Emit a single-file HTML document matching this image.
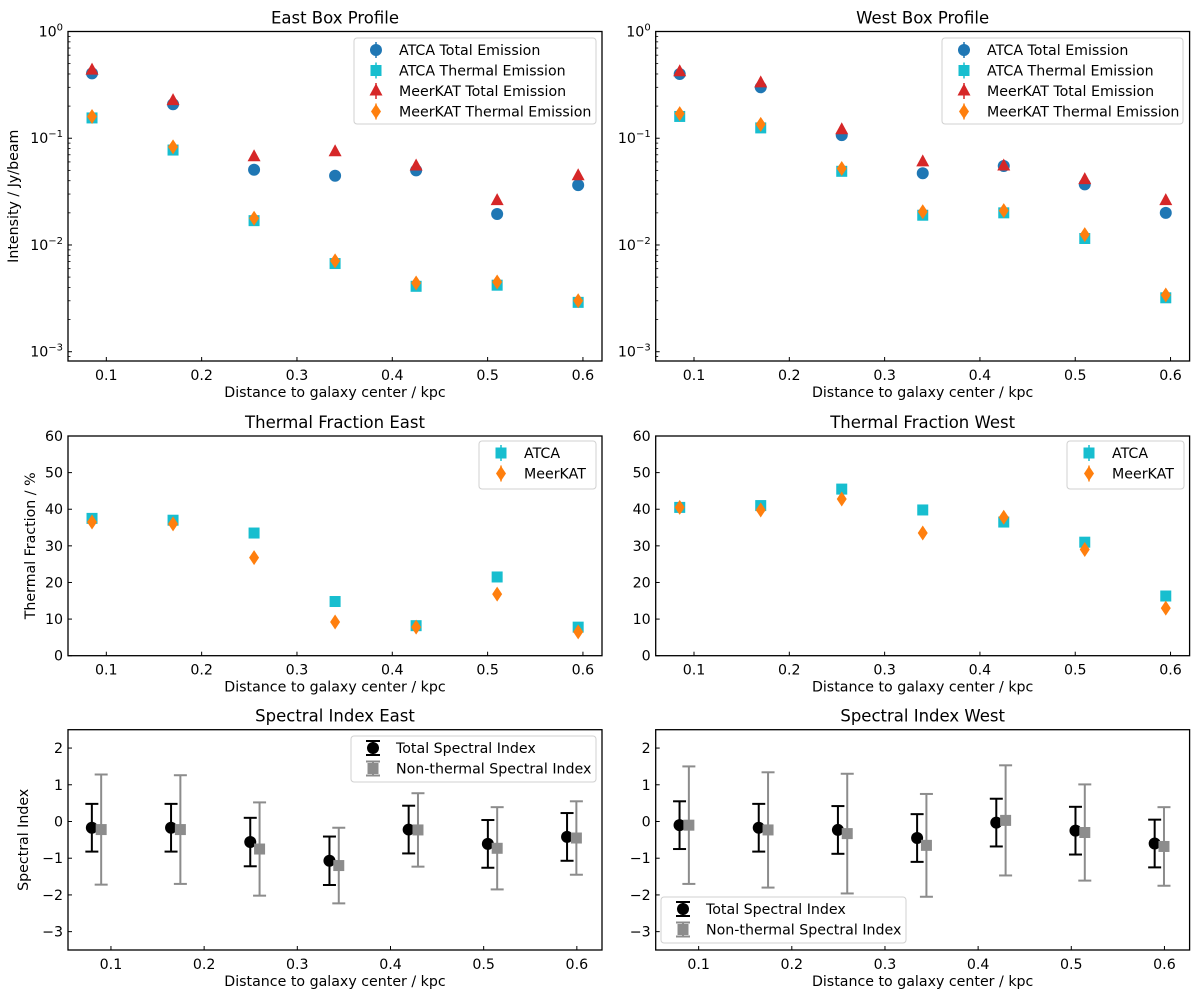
<!DOCTYPE html>
<html><head><meta charset="utf-8"><style>
body{margin:0;background:#fff;}
svg{display:block;font-family:"DejaVu Sans","Liberation Sans",sans-serif;}
</style></head><body>
<svg id="fig" width="1200" height="998" viewBox="0 0 1200 998" xmlns="http://www.w3.org/2000/svg"></svg>
<script>
// ---- data ----
const distances = [0.085, 0.17, 0.255, 0.34, 0.425, 0.51, 0.595];
const eastAtcaTotal = [0.405, 0.208, 0.0507, 0.0445, 0.050, 0.0195, 0.0364];
const eastAtcaThermal = [0.155, 0.0775, 0.0169, 0.0067, 0.0041, 0.0042, 0.0029];
const eastMeerTotal = [0.435, 0.225, 0.067, 0.0748, 0.055, 0.026, 0.0445];
const eastMeerThermal = [0.16, 0.083, 0.0178, 0.0071, 0.0044, 0.0045, 0.0030];
const westAtcaTotal = [0.40, 0.30, 0.107, 0.047, 0.055, 0.037, 0.020];
const westAtcaThermal = [0.16, 0.125, 0.049, 0.019, 0.020, 0.0115, 0.0032];
const westMeerTotal = [0.42, 0.33, 0.12, 0.060, 0.055, 0.041, 0.026];
const westMeerThermal = [0.17, 0.135, 0.052, 0.0205, 0.021, 0.0125, 0.0034];
const eastFracAtca = [37.5, 37, 33.5, 14.8, 8.2, 21.5, 7.8];
const eastFracMeer = [36.5, 36, 26.8, 9.2, 7.8, 16.8, 6.5];
const westFracAtca = [40.5, 41, 45.5, 39.8, 36.5, 31, 16.3];
const westFracMeer = [40.5, 39.8, 42.8, 33.5, 37.8, 29, 13];
const eastSiTotal = [-0.17, -0.17, -0.56, -1.07, -0.22, -0.61, -0.42];
const eastSiTotalErr = [0.65, 0.65, 0.66, 0.66, 0.65, 0.65, 0.65];
const eastSiNth = [-0.22, -0.22, -0.75, -1.2, -0.23, -0.73, -0.45];
const eastSiNthErr = [1.5, 1.48, 1.27, 1.03, 1.0, 1.12, 1.0];
const westSiTotal = [-0.1, -0.17, -0.23, -0.45, -0.03, -0.25, -0.6];
const westSiTotalErr = [0.65, 0.65, 0.65, 0.65, 0.65, 0.65, 0.65];
const westSiNth = [-0.1, -0.23, -0.33, -0.65, 0.03, -0.3, -0.68];
const westSiNthErr = [1.6, 1.57, 1.63, 1.4, 1.5, 1.31, 1.07];
const xTicks = [0.1, 0.2, 0.3, 0.4, 0.5, 0.6];
const logTicks = [0, -1, -2, -3];
const fracTicks = [0, 10, 20, 30, 40, 50, 60];
const siTicks = [-3, -2, -1, 0, 1, 2];

const NS = "http://www.w3.org/2000/svg";
const svg = document.getElementById('fig');
function mk(tag, attrs, parent, text) {
  const e = document.createElementNS(NS, tag);
  for (const k in attrs) e.setAttribute(k, attrs[k]);
  if (text !== undefined) e.textContent = text;
  (parent || svg).appendChild(e);
  return e;
}
const C = {blue:'#1f77b4', cyan:'#17becf', red:'#d62728', orange:'#ff7f0e'};
const FS = 14.2;

function marker(g, type, x, y, color) {
  let e;
  if (type === 'circle') e = mk('circle', {cx:x, cy:y, r:6, fill:color}, g);
  else if (type === 'square') e = mk('rect', {x:x-5.5, y:y-5.5, width:11, height:11, fill:color}, g);
  else if (type === 'tri') e = mk('path', {d:`M${x},${y-7.5} L${x+6.5},${y+4.5} L${x-6.5},${y+4.5}Z`, fill:color}, g);
  else if (type === 'diamond') e = mk('path', {d:`M${x},${y-7.5} L${x+5},${y} L${x},${y+7.5} L${x-5},${y}Z`, fill:color}, g);
  return e;
}

function panel(p) {
  const g = mk('g', {});
  
  
  const {L, R, T, B} = p;
  const sx = v => L + (v - p.xmin) / (p.xmax - p.xmin) * (R - L);
  const sy = v => {
    const t = p.log ? Math.log10(v) : v;
    return B - (t - p.ymin) / (p.ymax - p.ymin) * (B - T);
  };
  const t = mk('text', {x:(L+R)/2, y:T-8, 'text-anchor':'middle', 'font-size':16.5}, g, p.title);
  
  
  xTicks.forEach(v => {
    const x = sx(v);
    mk('line', {x1:x, y1:B, x2:x, y2:B-4, stroke:'#000', 'stroke-width':1}, g);
    const lb = mk('text', {x:x, y:B+19, 'text-anchor':'middle', 'font-size':FS}, g, v.toFixed(1));
    
    
  });
  const xl = mk('text', {x:(L+R)/2, y:B+36, 'text-anchor':'middle', 'font-size':FS}, g, 'Distance to galaxy center / kpc');
  
  
  if (p.log) {
    logTicks.forEach(e => {
      const y = B - (e - p.ymin) / (p.ymax - p.ymin) * (B - T);
      mk('line', {x1:L, y1:y, x2:L+4, y2:y, stroke:'#000'}, g);
      const lb = mk('text', {x:L-5, y:y+5, 'text-anchor':'end', 'font-size':FS}, g);
      
      
      mk('tspan', {}, lb, '10');
      mk('tspan', {dy:-6, 'font-size':10}, lb, e === 0 ? '0' : '\u2212' + (-e));
      if (e > -3) {
        for (let m = 2; m <= 9; m++) {
          const ym = sy(Math.pow(10, e - 1) * m);
          mk('line', {x1:L, y1:ym, x2:L+2.5, y2:ym, stroke:'#000', 'stroke-width':0.8}, g);
        }
      }
    });
    for (let m = 8; m <= 9; m++) {
      const ym = sy(Math.pow(10, -4) * m);
      if (ym < B) mk('line', {x1:L, y1:ym, x2:L+2.5, y2:ym, stroke:'#000', 'stroke-width':0.8}, g);
    }
  } else {
    p.yTicks.forEach(v => {
      const y = sy(v);
      mk('line', {x1:L, y1:y, x2:L+4, y2:y, stroke:'#000'}, g);
      const lb = mk('text', {x:L-5, y:y+5, 'text-anchor':'end', 'font-size':FS}, g, v < 0 ? '\u2212' + (-v) : String(v));
      
      
    });
  }
  if (p.ylabel) {
    const yl = mk('text', {x:0, y:0, transform:`translate(${L-p.ylOff},${(T+B)/2}) rotate(-90)`, 'text-anchor':'middle', 'font-size':FS}, g, p.ylabel);
    
    
  }
  p.series.forEach(s => {
    const sg = mk('g', {}, g);
    
    
    s.y.forEach((v, i) => {
      const x = sx(distances[i] + (s.dx || 0));
      if (s.err) {
        const y1 = sy(v + s.err[i]), y2 = sy(v - s.err[i]);
        mk('line', {x1:x, y1:y1, x2:x, y2:y2, stroke:s.color, 'stroke-width':2}, sg);
        mk('line', {x1:x-6.5, y1:y1, x2:x+6.5, y2:y1, stroke:s.color, 'stroke-width':2}, sg);
        mk('line', {x1:x-6.5, y1:y2, x2:x+6.5, y2:y2, stroke:s.color, 'stroke-width':2}, sg);
      }
      const m = marker(sg, s.type, x, sy(v), s.color);
      
      
    });
  });
  mk('rect', {x:L, y:T, width:R-L, height:B-T, fill:'none', stroke:'#000', 'stroke-width':1.3}, g);
  const lg = p.legend;
  const lgG = mk('g', {}, g);
  
  
  mk('rect', {x:lg.x, y:lg.y, width:lg.w, height:lg.h, rx:3, fill:'#fff', 'fill-opacity':0.8, stroke:'#d0d0d0'}, lgG);
  p.series.forEach((s, i) => {
    const ey = lg.y + 12 + i * 20.5;
    const eg = mk('g', {}, lgG);
    
    
    const mx = lg.x + 22;
    if (s.err) {
      mk('line', {x1:mx, y1:ey-7, x2:mx, y2:ey+7, stroke:s.color, 'stroke-width':2}, eg);
      mk('line', {x1:mx-7, y1:ey-7, x2:mx+7, y2:ey-7, stroke:s.color, 'stroke-width':2}, eg);
      mk('line', {x1:mx-7, y1:ey+7, x2:mx+7, y2:ey+7, stroke:s.color, 'stroke-width':2}, eg);
    } else {
      mk('line', {x1:mx, y1:ey-8, x2:mx, y2:ey+8, stroke:s.color, 'stroke-width':1.5}, eg);
    }
    marker(eg, s.type, mx, ey, s.color);
    mk('text', {x:lg.x + 45, y:ey + 5, 'font-size':FS}, eg, s.label);
  });
}

const xL = {xmin:0.0598, xmax:0.620};
const xS = {xmin:0.0539, xmax:0.627};
const left = {L:68, R:602}, right = {L:655.7, R:1189.6};
function emission(a, b, c, d) {
  return [
    {name:'atca-total-series', label:'ATCA Total Emission', type:'circle', color:C.blue, y:a},
    {name:'atca-thermal-series', label:'ATCA Thermal Emission', type:'square', color:C.cyan, y:b},
    {name:'meerkat-total-series', label:'MeerKAT Total Emission', type:'tri', color:C.red, y:c},
    {name:'meerkat-thermal-series', label:'MeerKAT Thermal Emission', type:'diamond', color:C.orange, y:d}];
}
function frac(a, b) {
  return [
    {name:'atca-fraction-series', label:'ATCA', type:'square', color:C.cyan, y:a},
    {name:'meerkat-fraction-series', label:'MeerKAT', type:'diamond', color:C.orange, y:b}];
}
function si(a, ae, b, be) {
  return [
    {name:'total-index-series', label:'Total Spectral Index', type:'circle', color:'#000', y:a, err:ae, dx:-0.0055},
    {name:'nonthermal-index-series', label:'Non-thermal Spectral Index', type:'square', color:'#8c8c8c', y:b, err:be, dx:0.0045}];
}
const r1 = {T:31.5, B:361, log:true, ymin:-3.087, ymax:0};
panel(Object.assign({name:'east-box-profile', title:'East Box Profile', ylabel:'Intensity / Jy/beam', ylOff:50,
  series:emission(eastAtcaTotal, eastAtcaThermal, eastMeerTotal, eastMeerThermal),
  legend:{x:354, y:38, w:242, h:86}}, left, xL, r1));
panel(Object.assign({name:'west-box-profile', title:'West Box Profile',
  series:emission(westAtcaTotal, westAtcaThermal, westMeerTotal, westMeerThermal),
  legend:{x:942, y:38, w:241, h:86}}, right, xL, r1));
const r2 = {T:436, B:655.7, log:false, ymin:0, ymax:60, yTicks:fracTicks};
panel(Object.assign({name:'thermal-fraction-east', title:'Thermal Fraction East', ylabel:'Thermal Fraction / %', ylOff:33,
  series:frac(eastFracAtca, eastFracMeer), legend:{x:479, y:441, w:117, h:48}}, left, xL, r2));
panel(Object.assign({name:'thermal-fraction-west', title:'Thermal Fraction West',
  series:frac(westFracAtca, westFracMeer), legend:{x:1067, y:441, w:117, h:48}}, right, xL, r2));
const r3 = {T:729.7, B:950, log:false, ymin:-3.5, ymax:2.5, yTicks:siTicks};
panel(Object.assign({name:'spectral-index-east', title:'Spectral Index East', ylabel:'Spectral Index', ylOff:40,
  series:si(eastSiTotal, eastSiTotalErr, eastSiNth, eastSiNthErr), legend:{x:351, y:736, w:245, h:46}}, left, xS, r3));
panel(Object.assign({name:'spectral-index-west', title:'Spectral Index West',
  series:si(westSiTotal, westSiTotalErr, westSiNth, westSiNthErr), legend:{x:661, y:897, w:245, h:46}}, right, xS, r3));
</script>
</body></html>
